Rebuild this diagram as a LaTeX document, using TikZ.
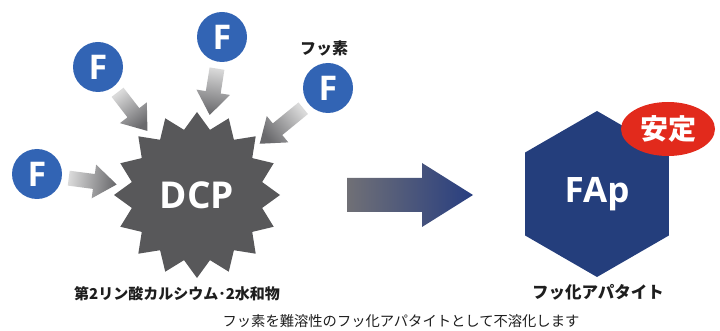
\documentclass[tikz,border=0pt]{standalone}
\usepackage{fontspec}
\setmainfont{Open Sans}
\newfontfamily\jp{Noto Sans CJK JP}
\usetikzlibrary{calc,shapes.geometric}
\definecolor{fblue}{RGB}{50,100,180}
\definecolor{stargray}{RGB}{88,88,90}
\definecolor{navy}{RGB}{36,62,124}
\definecolor{redbadge}{RGB}{226,42,28}
\definecolor{arrlight}{RGB}{218,218,218}
\definecolor{arrdark}{RGB}{105,105,108}
\definecolor{bigL}{RGB}{112,112,118}
\definecolor{bigR}{RGB}{40,62,128}
\definecolor{txt}{RGB}{30,30,30}
\newcommand{\GArrow}[3]{%
  \coordinate (t#2) at ($(#1)!32pt!(dcp.center)$);
  \coordinate (p#2) at ($(dcp.center)!81pt!(#1)$);
  \coordinate (h#2) at ($(p#2)!23pt!(t#2)$);
  \shade[top color=arrdark, bottom color=arrlight, shading angle=#3]
    ($(t#2)!7.5pt!90:(p#2)$) -- ($(h#2)!7.5pt!90:(p#2)$) -- ($(h#2)!17pt!90:(p#2)$)
    -- (p#2) -- ($(h#2)!17pt!-90:(p#2)$) -- ($(h#2)!7.5pt!-90:(p#2)$)
    -- ($(t#2)!7.5pt!-90:(p#2)$) -- cycle;
}
\begin{document}
\begin{tikzpicture}[x=1pt,y=-1pt,
  fatom/.style={circle, fill=fblue, minimum size=50pt, inner sep=0pt, text=white,
    font=\fontsize{34}{34}\selectfont\bfseries},
  bigtext/.style={text=white, font=\fontsize{37}{37}\selectfont\bfseries},
  jplab/.style={text=txt, font=\jp\bfseries\fontsize{15}{15}\selectfont}]
\useasboundingbox (0,0) rectangle (720,331);

% DCP star
\node[star, star points=16, star point ratio=1.25, minimum size=166pt, inner sep=0pt,
      fill=stargray, bigtext] (dcp) at (197,195) {DCP};

% fluorine atoms
\node[fatom] (f1) at (98,67) {F};
\node[fatom] (f2) at (222,37) {F};
\node[fatom] (f3) at (328,88) {F};
\node[fatom] (f4) at (37,174) {F};
\node[jplab, font=\jp\bfseries\fontsize{16}{16}\selectfont] (fuso) at (324,48) {フッ素};

% gray arrows
\GArrow{f1}{1}{-142.3}
\GArrow{f2}{2}{171}
\GArrow{f3}{3}{129.2}
\GArrow{f4}{4}{-97.5}

% big arrow
\coordinate (ba) at (347,195);
\coordinate (bb) at (473,195);
\shade[left color=bigL, right color=bigR]
  ($(ba)+(0,-17)$) -- ($(ba)+(75,-17)$) -- ($(ba)+(75,-32)$) -- (bb)
  -- ($(ba)+(75,32)$) -- ($(ba)+(75,17)$) -- ($(ba)+(0,17)$) -- cycle;

% FAp hexagon
\node[regular polygon, regular polygon sides=6, shape border rotate=30, minimum size=166pt,
      inner sep=0pt, fill=navy, bigtext, font=\fontsize{35}{35}\selectfont\bfseries] (fap) at (597,194) {FAp};
\node[ellipse, fill=redbadge, minimum width=94pt, minimum height=54pt, inner sep=0pt,
      text=white, font=\jp\bfseries\fontsize{28}{28}\selectfont] (antei) at (668,129) {安定};

% labels
\node[jplab] (dcplab) at (177,294) {第2リン酸カルシウム･2水和物};
\node[jplab, font=\jp\bfseries\fontsize{16.5}{16.5}\selectfont] (faplab) at (598,292) {フッ化アパタイト};
\node[text=txt, font=\jp\fontsize{14.3}{14.3}\selectfont] (note) at (401,321)
  {フッ素を難溶性のフッ化アパタイトとして不溶化します};
\end{tikzpicture}
\end{document}
